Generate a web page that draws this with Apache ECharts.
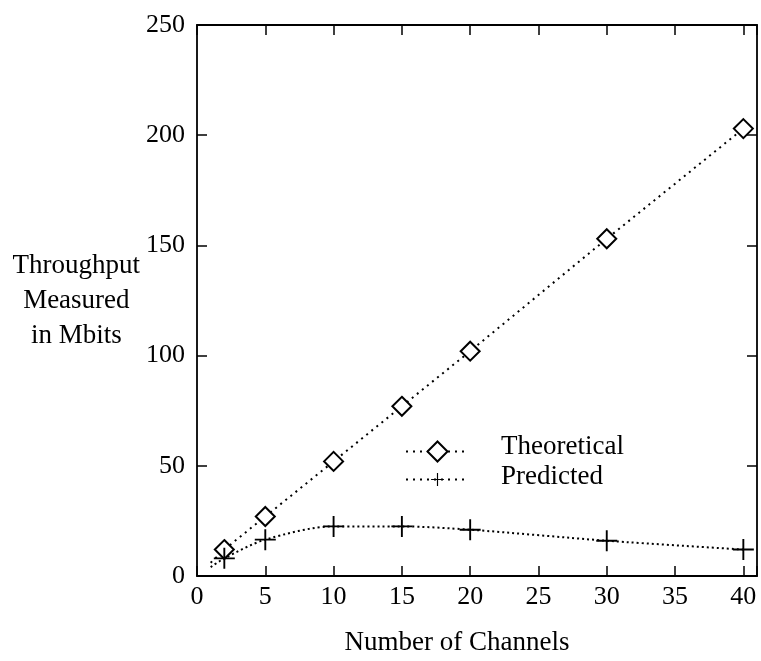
<!DOCTYPE html>
<html>
<head>
<meta charset="utf-8">
<script src="https://cdn.jsdelivr.net/npm/echarts@6/dist/echarts.min.js"></script>
<style>
html,body{margin:0;padding:0;background:#fff;}
#chart{width:761px;height:661px;}
</style>
</head>
<body>
<div id="chart"></div>
<script>
// ---- data ----
var channelsTheoretical = [1, 2, 5, 10, 15, 20, 30, 40];
var theoretical = [6, 12, 27, 52, 77, 102, 153, 203];
var channelsPredicted = [1, 2, 5, 10, 15, 20, 30, 40];
var predicted = [4, 8, 16.5, 22.5, 22.5, 21, 16, 12];
var xTicks = [0, 5, 10, 15, 20, 25, 30, 35, 40];
var yTicks = [0, 50, 100, 150, 200, 250];
var seriesNames = ['Theoretical', 'Predicted'];
var xName = 'Number of Channels';
var yName = 'Throughput\nMeasured\nin Mbits';

var FONT = 'Liberation Serif';
var plusPath = 'path://M9.1,0 H10.9 V9.1 H20 V10.9 H10.9 V20 H9.1 V10.9 H0 V9.1 H9.1 Z';

function pairs(xs, ys) {
  return xs.map(function (x, i) {
    var p = { value: [x, ys[i]] };
    if (i === 0) p.symbol = 'none';
    return p;
  });
}

var axisLine = { show: true, onZero: false, lineStyle: { color: '#000', width: 1.8 } };
var tick = { show: true, inside: true, length: 10, lineStyle: { color: '#000', width: 1.5 } };
var chart = echarts.init(document.getElementById('chart'), null, { renderer: 'canvas' });
chart.setOption({
  backgroundColor: '#fff',
  animation: false,
  grid: { left: 197, top: 25, width: 560, height: 552, containLabel: false },
  xAxis: [{
    type: 'value', position: 'bottom', min: 0, max: 41, interval: 5,
    name: xName, nameLocation: 'middle', nameGap: 53,
    nameTextStyle: { fontFamily: FONT, fontSize: 27, color: '#000', padding: [0, 40, 0, 0] },
    axisLine: axisLine, axisTick: tick,
    axisLabel: { margin: 8, fontFamily: FONT, fontSize: 26, color: '#000',
      formatter: function (v) { return xTicks.indexOf(v) >= 0 ? String(v) : ''; } },
    splitLine: { show: false }
  }, {
    type: 'value', position: 'top', min: 0, max: 41, interval: 5,
    axisLine: axisLine, axisTick: tick,
    axisLabel: { show: false }, splitLine: { show: false }
  }],
  yAxis: [{
    type: 'value', position: 'left', min: 0, max: 250, interval: 50,
    name: yName, nameLocation: 'middle', nameGap: 117, nameRotate: 0,
    nameTextStyle: { fontFamily: FONT, fontSize: 27, color: '#000', align: 'center',
      verticalAlign: 'middle', lineHeight: 35, padding: [0, 0, 26, 0] },
    axisLine: axisLine, axisTick: tick,
    axisLabel: { margin: 12, fontFamily: FONT, fontSize: 26, color: '#000',
      formatter: function (v) { return yTicks.indexOf(v) >= 0 ? String(v) : ''; } },
    splitLine: { show: false }
  }, {
    type: 'value', position: 'right', min: 0, max: 250, interval: 50,
    axisLine: axisLine, axisTick: tick,
    axisLabel: { show: false }, splitLine: { show: false }
  }],
  legend: [{
    data: [seriesNames[0]], left: 405, top: 433, padding: 0, orient: 'vertical',
    itemWidth: 63, itemHeight: 25,
    lineStyle: { type: [2, 5], width: 2, cap: 'butt' },
    formatter: function (n) { return '{t|' + n + '}'; },
    textStyle: { fontFamily: FONT, fontSize: 27, color: '#000',
      rich: { t: { fontFamily: FONT, fontSize: 27, color: '#000', padding: [0, 0, 10, 27] } } }
  }, {
    data: [seriesNames[1]], left: 405, top: 463, padding: 0, orient: 'vertical',
    itemWidth: 63, itemHeight: 16,
    lineStyle: { type: [2, 5], width: 2, cap: 'butt' },
    formatter: function (n) { return '{t|' + n + '}'; },
    textStyle: { fontFamily: FONT, fontSize: 27, color: '#000',
      rich: { t: { fontFamily: FONT, fontSize: 27, color: '#000', padding: [0, 0, 6, 27] } } }
  }],
  series: [{
    name: seriesNames[0], type: 'line', xAxisIndex: 0, yAxisIndex: 0,
    data: pairs(channelsTheoretical, theoretical),
    symbol: 'emptyDiamond', symbolSize: 19,
    itemStyle: { color: '#000', borderColor: '#000', borderWidth: 1.7 },
    lineStyle: { color: '#000', width: 2, type: [2, 4.5] },
    z: 3
  }, {
    name: seriesNames[1], type: 'line', xAxisIndex: 0, yAxisIndex: 0,
    data: pairs(channelsPredicted, predicted),
    smooth: 0.3,
    symbol: plusPath, symbolSize: 21,
    itemStyle: { color: '#000' },
    lineStyle: { color: '#000', width: 2, type: [2, 3] },
    z: 3
  }]
});
</script>
</body>
</html>
